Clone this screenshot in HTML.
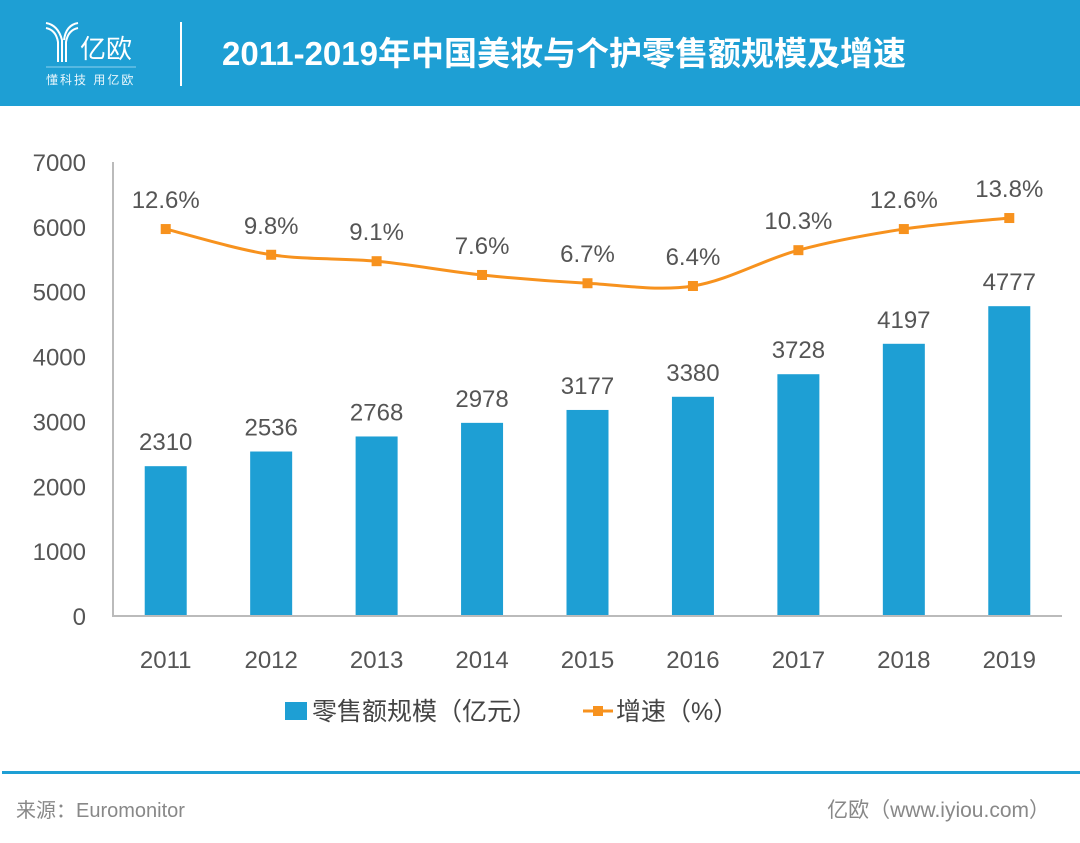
<!DOCTYPE html>
<html><head><meta charset="utf-8"><style>
body{margin:0;width:1080px;height:843px;background:#fff;overflow:hidden;font-family:"Liberation Sans","Noto Sans CJK SC",sans-serif;}
svg{display:block}
</style></head><body>
<svg width="1080" height="843">
<rect x="0" y="0" width="1080" height="106" fill="#1e9fd4"/>
<g fill="none" stroke="#fff" stroke-width="2">
<path d="M46 23 Q58 25 62 40 L62 62 M46 28 Q56 30 58 42 L58 62 M78 23 Q66 25 64 40 M78 28 Q68 30 66 42 L66 62"/>
</g>
<text x="80" y="58" fill="#fff" font-size="26">亿欧</text>
<line x1="46" y1="67" x2="136" y2="67" stroke="#8fd0ee" stroke-width="1"/>
<text x="46" y="84" fill="#e8f6fc" font-size="12" letter-spacing="2">懂科技 用亿欧</text>
<line x1="181" y1="22" x2="181" y2="86" stroke="#fff" stroke-width="2"/>
<text x="222" y="65" fill="#fff" font-size="33" font-weight="bold">2011-2019年中国美妆与个护零售额规模及增速</text>
<g id="plot"></g>
<rect x="285" y="702" width="22" height="18" fill="#1e9fd4"/>
<text x="312" y="720" font-size="25" fill="#444">零售额规模（亿元）</text>
<line x1="583" y1="711" x2="613" y2="711" stroke="#f7921e" stroke-width="3"/>
<rect x="593" y="706" width="10" height="10" fill="#f7921e"/>
<text x="616" y="720" font-size="25" fill="#444">增速（%）</text>
<rect x="2" y="771" width="1078" height="3" fill="#1e9fd4"/>
<text x="16" y="817" font-size="20" fill="#888">来源：Euromonitor</text>
<text x="1050" y="817" font-size="21" fill="#888" text-anchor="end">亿欧（www.iyiou.com）</text>
</svg>
<script>
const years=["2011","2012","2013","2014","2015","2016","2017","2018","2019"];
const sales=[2310,2536,2768,2978,3177,3380,3728,4197,4777];
const growth=[12.6,9.8,9.1,7.6,6.7,6.4,10.3,12.6,13.8];
const yTicks=[0,1000,2000,3000,4000,5000,6000,7000];
const NS="http://www.w3.org/2000/svg";
const g=document.getElementById('plot');
const x0=113,x1=1062,yb=616,yt=162;
const bw=(x1-x0)/years.length;
const xc=i=>x0+bw*(i+0.5);
const y=v=>yb-(v/7000)*(yb-yt);
const y2=p=>y(p*141.6+4182);
function mk(t,a){const e=document.createElementNS(NS,t);for(const k in a)e.setAttribute(k,a[k]);g.appendChild(e);return e;}
yTicks.forEach(v=>{const t=mk('text',{x:86,y:y(v)+9,'text-anchor':'end','font-size':24,fill:'#555'});t.textContent=v;

});
sales.forEach((v,i)=>{const r=mk('rect',{x:xc(i)-21,y:y(v),width:42,height:yb-y(v),fill:'#1e9fd4'});


const t=mk('text',{x:xc(i),y:y(v)-16,'text-anchor':'middle','font-size':24,fill:'#555'});t.textContent=v;


const l=mk('text',{x:xc(i),y:668,'text-anchor':'middle','font-size':24,fill:'#555'});l.textContent=years[i];

});
const ax=mk('path',{d:`M${x0} ${yt}V${yb}H${x1}`,fill:'none',stroke:'#bbb','stroke-width':2});


const pts=growth.map((p,i)=>[xc(i),y2(p)]);
let d=`M${pts[0][0]} ${pts[0][1]}`;
for(let i=0;i<pts.length-1;i++){const p0=pts[Math.max(0,i-1)],p1=pts[i],p2=pts[i+1],p3=pts[Math.min(pts.length-1,i+2)];
d+=` C${p1[0]+(p2[0]-p0[0])/6} ${p1[1]+(p2[1]-p0[1])/6} ${p2[0]-(p3[0]-p1[0])/6} ${p2[1]-(p3[1]-p1[1])/6} ${p2[0]} ${p2[1]}`;}
const ln=mk('path',{d:d,fill:'none',stroke:'#f7921e','stroke-width':3});


pts.forEach((p,i)=>{const m=mk('rect',{x:p[0]-5,y:p[1]-5,width:10,height:10,fill:'#f7921e'});


const t=mk('text',{x:p[0],y:p[1]-21,'text-anchor':'middle','font-size':24,fill:'#555'});t.textContent=growth[i]+'%';

});
</script>
</body></html>
